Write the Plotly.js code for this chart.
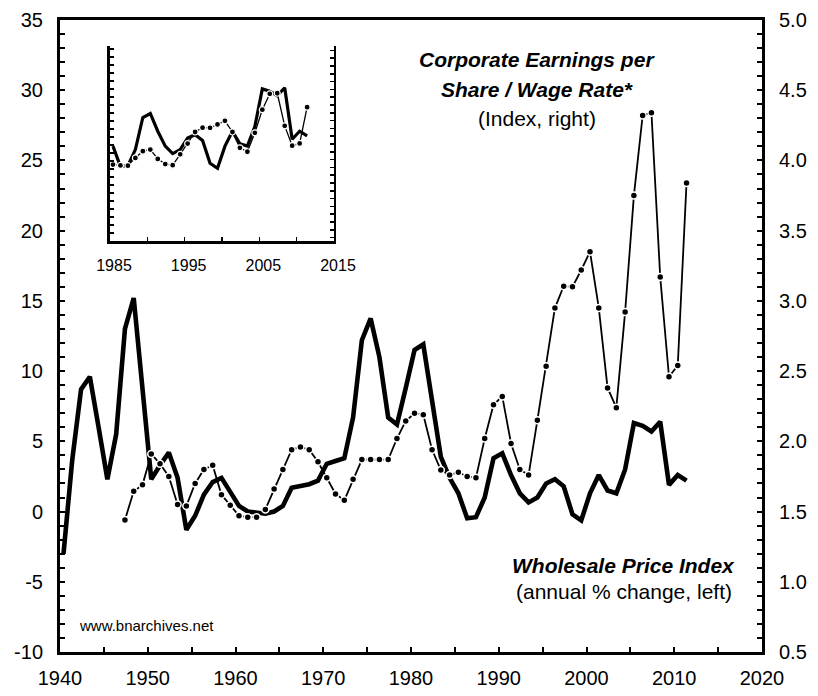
<!DOCTYPE html>
<html>
<head>
<meta charset="utf-8">
<script src="https://cdn.plot.ly/plotly-3.0.1.min.js"></script>
<style>
html,body{margin:0;padding:0;background:#ffffff;}
#chart{width:818px;height:696px;}
</style>
</head>
<body>
<div id="chart"></div>
<script>
// ---- Data ----
const wpiYears = [1940,1941,1942,1943,1944,1945,1946,1947,1948,1949,
  1950,1951,1952,1953,1954,1955,1956,1957,1958,1959,
  1960,1961,1962,1963,1964,1965,1966,1967,1968,1969,
  1970,1971,1972,1973,1974,1975,1976,1977,1978,1979,
  1980,1981,1982,1983,1984,1985,1986,1987,1988,1989,
  1990,1991,1992,1993,1994,1995,1996,1997,1998,1999,
  2000,2001,2002,2003,2004,2005,2006,2007,2008,2009,
  2010,2011];
// Wholesale Price Index, annual % change (left axis)
const wpiValues = [-3.0,3.7,8.7,9.6,6.0,2.3,5.5,13.0,15.2,8.6,
  2.3,3.3,4.2,2.4,-1.3,-0.3,1.2,2.1,2.4,1.4,
  0.4,0.0,-0.05,-0.15,0.0,0.4,1.7,1.8,1.95,2.2,
  3.4,3.6,3.8,6.7,12.2,13.75,11.0,6.7,6.2,8.8,
  11.5,11.9,8.1,3.9,2.4,1.3,-0.48,-0.4,1.0,3.8,
  4.15,2.6,1.3,0.65,1.0,2.0,2.3,1.8,-0.2,-0.63,
  1.3,2.6,1.5,1.3,3.0,6.3,6.1,5.7,6.4,1.9,
  2.6,2.2];

const ratioYears = [1947,1948,1949,
  1950,1951,1952,1953,1954,1955,1956,1957,1958,1959,
  1960,1961,1962,1963,1964,1965,1966,1967,1968,1969,
  1970,1971,1972,1973,1974,1975,1976,1977,1978,1979,
  1980,1981,1982,1983,1984,1985,1986,1987,1988,1989,
  1990,1991,1992,1993,1994,1995,1996,1997,1998,1999,
  2000,2001,2002,2003,2004,2005,2006,2007,2008,2009,
  2010,2011];
// Corporate Earnings per Share / Wage Rate index (right axis)
const ratioValues = [1.44,1.645,1.69,
  1.91,1.84,1.75,1.55,1.54,1.70,1.80,1.83,1.62,1.545,
  1.47,1.46,1.46,1.515,1.66,1.80,1.94,1.96,1.94,1.855,
  1.74,1.625,1.58,1.73,1.87,1.87,1.87,1.87,2.02,2.145,
  2.20,2.19,1.94,1.795,1.76,1.78,1.75,1.74,2.02,2.26,
  2.32,1.985,1.80,1.76,2.15,2.535,2.95,3.105,3.10,3.22,
  3.35,2.95,2.38,2.24,2.92,3.75,4.32,4.34,3.17,2.46,
  2.54,3.84];

const insetFromYear = 1985;

const leftTickVals = [-10,-5,0,5,10,15,20,25,30,35];
const rightTickVals = [0.5,1.0,1.5,2.0,2.5,3.0,3.5,4.0,4.5,5.0];
const xTickVals = [1940,1950,1960,1970,1980,1990,2000,2010,2020];
const insetTickVals = [1985,1995,2005,2015];

const annotationsText = {
  ratioTitle1: 'Corporate Earnings per',
  ratioTitle2: 'Share / Wage Rate*',
  ratioSub: '(Index, right)',
  wpiTitle: 'Wholesale Price Index',
  wpiSub: '(annual % change, left)',
  source: 'www.bnarchives.net'
};

// annual observations are plotted a little into each year (as in the original)
const yearPos = 0.4;
const pos = ys => ys.map(y => y + yearPos);

const insetIdxW = wpiYears.map((y,i)=>y>=insetFromYear?i:-1).filter(i=>i>=0);
const insetIdxR = ratioYears.map((y,i)=>y>=insetFromYear?i:-1).filter(i=>i>=0);

const FONT = '"Liberation Sans", Arial, Helvetica, sans-serif';
const BLACK = '#000000';

const traces = [
  {
    x: pos(wpiYears), y: wpiValues, xaxis:'x', yaxis:'y',
    type:'scatter', mode:'lines',
    line:{color:BLACK, width:4.6}, hoverinfo:'skip'
  },
  {
    x: pos(ratioYears), y: ratioValues, xaxis:'x', yaxis:'y2',
    type:'scatter', mode:'lines+markers',
    line:{color:BLACK, width:1.8},
    marker:{color:BLACK, size:7, line:{color:'#ffffff', width:1.5}},
    hoverinfo:'skip'
  },
  {
    x: pos(insetIdxW.map(i=>wpiYears[i])), y: insetIdxW.map(i=>wpiValues[i]),
    xaxis:'x2', yaxis:'y3', type:'scatter', mode:'lines',
    line:{color:BLACK, width:3.2}, hoverinfo:'skip'
  },
  {
    x: pos(insetIdxR.map(i=>ratioYears[i])), y: insetIdxR.map(i=>ratioValues[i]),
    xaxis:'x2', yaxis:'y4', type:'scatter', mode:'lines+markers',
    line:{color:BLACK, width:1.3},
    marker:{color:BLACK, size:6, line:{color:'#ffffff', width:1.2}},
    hoverinfo:'skip'
  }
];

const mainTick = {ticks:'inside', ticklen:5, tickwidth:2, tickcolor:BLACK};
const insetTick = {ticks:'inside', ticklen:4, tickwidth:1.5, tickcolor:BLACK};

const layout = {
  width:818, height:696,
  margin:{l:60, r:56, t:20, b:44, pad:0},
  paper_bgcolor:'#ffffff', plot_bgcolor:'rgba(0,0,0,0)',
  showlegend:false,
  font:{family:FONT, color:BLACK, size:20},
  xaxis:Object.assign({
    domain:[0,1], range:[1940,2020], tickmode:'array', tickvals:xTickVals,
    ticktext:xTickVals.map(String),
    showline:true, linewidth:3, linecolor:BLACK, mirror:true,
    showgrid:false, zeroline:false,
    tickfont:{family:FONT, size:20, color:BLACK},
    ticklabelstandoff:6,
    minor:Object.assign({dtick:5, tick0:1940, showgrid:false}, mainTick)
  }, mainTick),
  yaxis:Object.assign({
    range:[-10,35], tickmode:'array', tickvals:leftTickVals, ticktext:leftTickVals.map(String),
    showline:true, linewidth:3, linecolor:BLACK,
    showgrid:false, zeroline:false,
    tickfont:{family:FONT, size:20, color:BLACK},
    ticklabelstandoff:10,
    minor:Object.assign({dtick:1, tick0:0, showgrid:false}, mainTick)
  }, mainTick),
  yaxis2:Object.assign({
    overlaying:'y', side:'right', anchor:'x',
    range:[0.5,5.0], tickmode:'array', tickvals:rightTickVals, ticktext:rightTickVals.map(v=>v.toFixed(1)),
    showline:true, linewidth:3, linecolor:BLACK,
    showgrid:false, zeroline:false,
    tickfont:{family:FONT, size:20, color:BLACK},
    ticklabelstandoff:10,
    minor:Object.assign({dtick:0.1, tick0:0.5, showgrid:false}, mainTick)
  }, mainTick),
  xaxis2:Object.assign({
    domain:[0.0712,0.3903], anchor:'y3', range:[1985,2015],
    tickmode:'array', tickvals:insetTickVals, ticktext:insetTickVals.map(String),
    showline:true, linewidth:2.5, linecolor:BLACK,
    showgrid:false, zeroline:false,
    tickfont:{family:FONT, size:16, color:BLACK},
    ticklabelstandoff:8, ticklabelshift:4,
    minor:Object.assign({dtick:5, tick0:1985, showgrid:false}, insetTick)
  }, insetTick),
  yaxis3:Object.assign({
    domain:[0.650,0.959], anchor:'x2', range:[-7,10.05],
    dtick:0.7, tick0:0, showticklabels:false,
    showline:true, linewidth:2.5, linecolor:BLACK,
    showgrid:false, zeroline:false
  }, insetTick),
  yaxis4:Object.assign({
    overlaying:'y3', side:'right', anchor:'x2', range:[-0.97,6.04],
    dtick:0.28, tick0:0, showticklabels:false,
    showline:true, linewidth:2.5, linecolor:BLACK,
    showgrid:false, zeroline:false
  }, insetTick),
  annotations:[
    {xref:'paper', yref:'paper', x:0.6795, y:0.938, text:'<b><i>'+annotationsText.ratioTitle1+'</i></b>',
     showarrow:false, xanchor:'center', yanchor:'middle', font:{family:FONT, size:21, color:BLACK}},
    {xref:'paper', yref:'paper', x:0.6795, y:0.8905, text:'<b><i>'+annotationsText.ratioTitle2+'</i></b>',
     showarrow:false, xanchor:'center', yanchor:'middle', font:{family:FONT, size:21, color:BLACK}},
    {xref:'paper', yref:'paper', x:0.6795, y:0.8445, text:annotationsText.ratioSub,
     showarrow:false, xanchor:'center', yanchor:'middle', font:{family:FONT, size:21, color:BLACK}},
    {xref:'paper', yref:'paper', x:0.8034, y:0.1374, text:'<b><i>'+annotationsText.wpiTitle+'</i></b>',
     showarrow:false, xanchor:'center', yanchor:'middle', font:{family:FONT, size:21, color:BLACK}},
    {xref:'paper', yref:'paper', x:0.8034, y:0.0961, text:annotationsText.wpiSub,
     showarrow:false, xanchor:'center', yanchor:'middle', font:{family:FONT, size:21, color:BLACK}},
    {xref:'paper', yref:'paper', x:0.0242, y:0.042, text:annotationsText.source,
     showarrow:false, xanchor:'left', yanchor:'middle', font:{family:FONT, size:15, color:BLACK}}
  ]
};

Plotly.newPlot('chart', traces, layout, {displayModeBar:false, staticPlot:true});
</script>
</body>
</html>
